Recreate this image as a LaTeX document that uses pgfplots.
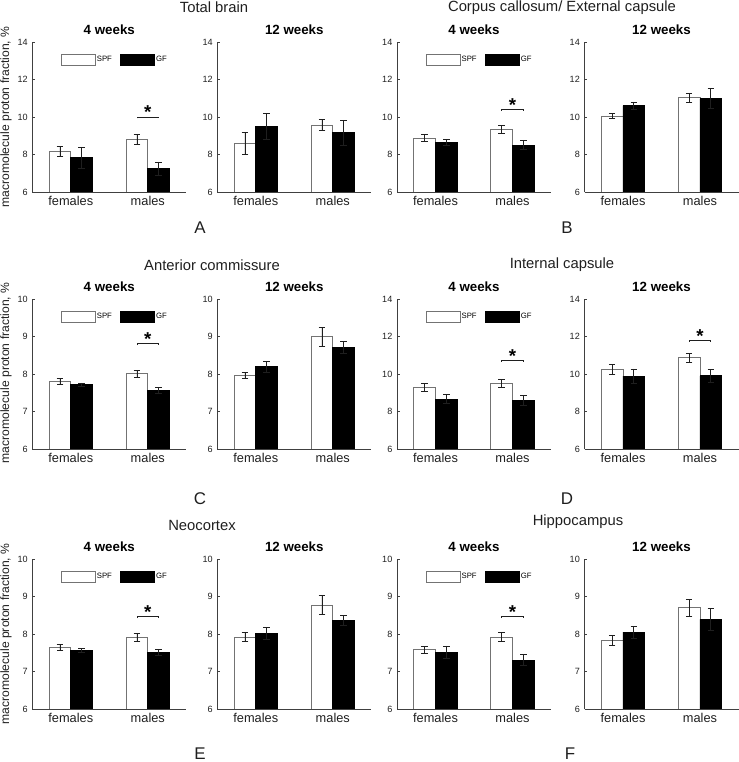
\documentclass[border=0pt]{standalone}
\usepackage{fontspec}
\setmainfont{Liberation Sans}
\usepackage{pgfplots}
\pgfplotsset{compat=1.18}
\definecolor{axc}{gray}{0.25}
\definecolor{txc}{gray}{0.12}
\pgfplotsset{
  panel/.style={
    scale only axis, width=115.5pt, height=112.5pt,
    xmin=0.5, xmax=2.5, ymin=6,
    xtick={1,2}, xticklabels={females,males},
    axis x line*=bottom, axis y line*=left,
    axis line style={axc, line width=0.6pt, -},
    tick align=inside, major tick length=2.2pt,
    tick style={axc, line width=0.5pt},
    xtick style={draw=none},
    x tick label style={font=\fontsize{9.6}{11}\selectfont, text=txc},
    y tick label style={font=\fontsize{6.8}{7}\selectfont, text=txc},
    /pgf/number format/assume math mode=true,
    title style={font=\bfseries\fontsize{10}{12}\selectfont, at={(0.5,1)}, anchor=center, yshift=3pt},
    legend columns=2,
    legend style={draw=none, fill=none, at={(0.185,0.922)}, anchor=north west,
      font=\fontsize{5.8}{6}\selectfont, inner sep=0pt, outer sep=0pt,
      nodes={inner sep=1pt},
      /tikz/every even column/.append style={column sep=5pt}},
  },
  big/.style={ymax=14, ytick={6,8,10,12,14}},
  small/.style={ymax=10, ytick={6,7,8,9,10}},
  barbase/.style={ybar, bar width=0.283, bar shift=0pt, line width=0.6pt,
    legend image code/.code={\draw[##1] (0pt,-4.1pt) rectangle (25.5pt,4.1pt);},
    error bars/y dir=both, error bars/y explicit,
    error bars/error bar style={txc, line width=0.6pt},
    error bars/error mark options={rotate=90, txc, mark size=2.5pt, line width=0.6pt}},
  spf/.style={barbase, fill=white, draw=black!55},
  gf/.style={barbase, fill=black, draw=black},
  sig/.style={txc, line width=0.6pt, forget plot},
}
\newcommand{\sigstar}[1]{\node[font=\bfseries\fontsize{14}{14}\selectfont, anchor=base, yshift=-1.5pt] at (axis cs:2,#1) {*};}
\begin{document}
\begin{tikzpicture}
\useasboundingbox (0pt,0pt) rectangle (553.5pt,571.5pt);

% ---------------- Row 1 ----------------
\begin{axis}[panel, big, at={(32.3*0.75pt,570*0.75pt)}, anchor=south west, title={4 weeks}]
\addplot[spf] coordinates {(0.859,8.17) +- (0,0.25) (1.859,8.80) +- (0,0.27)};
\addlegendentry{SPF}
\addplot[gf] coordinates {(1.141,7.83) +- (0,0.57) (2.141,7.25) +- (0,0.35)};
\addlegendentry{GF}
\addplot[sig] coordinates {(1.859,9.92) (1.859,10.0) (2.141,10.0) (2.141,9.92)};
\sigstar{10.0}
\end{axis}
\begin{axis}[panel, big, at={(217.3*0.75pt,570*0.75pt)}, anchor=south west, title={12 weeks}]
\addplot[spf] coordinates {(0.859,8.59) +- (0,0.58) (1.859,9.57) +- (0,0.30)};
\addplot[gf] coordinates {(1.141,9.51) +- (0,0.70) (2.141,9.17) +- (0,0.66)};
\end{axis}
\begin{axis}[panel, big, at={(397*0.75pt,570*0.75pt)}, anchor=south west, title={4 weeks}]
\addplot[spf] coordinates {(0.859,8.87) +- (0,0.18) (1.859,9.35) +- (0,0.21)};
\addlegendentry{SPF}
\addplot[gf] coordinates {(1.141,8.63) +- (0,0.15) (2.141,8.50) +- (0,0.23)};
\addlegendentry{GF}
\addplot[sig] coordinates {(1.859,10.33) (1.859,10.41) (2.141,10.41) (2.141,10.33)};
\sigstar{10.41}
\end{axis}
\begin{axis}[panel, big, at={(584.5*0.75pt,570*0.75pt)}, anchor=south west, title={12 weeks}]
\addplot[spf] coordinates {(0.859,10.05) +- (0,0.15) (1.859,11.04) +- (0,0.24)};
\addplot[gf] coordinates {(1.141,10.60) +- (0,0.20) (2.141,10.98) +- (0,0.52)};
\end{axis}

% ---------------- Row 2 ----------------
\begin{axis}[panel, small, at={(32.3*0.75pt,313*0.75pt)}, anchor=south west, title={4 weeks}]
\addplot[spf] coordinates {(0.859,7.80) +- (0,0.08) (1.859,8.01) +- (0,0.09)};
\addlegendentry{SPF}
\addplot[gf] coordinates {(1.141,7.71) +- (0,0.05) (2.141,7.56) +- (0,0.07)};
\addlegendentry{GF}
\addplot[sig] coordinates {(1.859,8.77) (1.859,8.81) (2.141,8.81) (2.141,8.77)};
\sigstar{8.81}
\end{axis}
\begin{axis}[panel, small, at={(217.3*0.75pt,313*0.75pt)}, anchor=south west, title={12 weeks}]
\addplot[spf] coordinates {(0.859,7.95) +- (0,0.08) (1.859,8.99) +- (0,0.26)};
\addplot[gf] coordinates {(1.141,8.19) +- (0,0.14) (2.141,8.70) +- (0,0.16)};
\end{axis}
\begin{axis}[panel, big, at={(397*0.75pt,313*0.75pt)}, anchor=south west, title={4 weeks}]
\addplot[spf] coordinates {(0.859,9.28) +- (0,0.20) (1.859,9.51) +- (0,0.21)};
\addlegendentry{SPF}
\addplot[gf] coordinates {(1.141,8.66) +- (0,0.24) (2.141,8.57) +- (0,0.27)};
\addlegendentry{GF}
\addplot[sig] coordinates {(1.859,10.66) (1.859,10.74) (2.141,10.74) (2.141,10.66)};
\sigstar{10.74}
\end{axis}
\begin{axis}[panel, big, at={(584.5*0.75pt,313*0.75pt)}, anchor=south west, title={12 weeks}]
\addplot[spf] coordinates {(0.859,10.25) +- (0,0.26) (1.859,10.86) +- (0,0.22)};
\addplot[gf] coordinates {(1.141,9.88) +- (0,0.39) (2.141,9.90) +- (0,0.33)};
\addplot[sig] coordinates {(1.859,11.73) (1.859,11.81) (2.141,11.81) (2.141,11.73)};
\sigstar{11.81}
\end{axis}

% ---------------- Row 3 ----------------
\begin{axis}[panel, small, at={(32.3*0.75pt,53*0.75pt)}, anchor=south west, title={4 weeks}]
\addplot[spf] coordinates {(0.859,7.64) +- (0,0.07) (1.859,7.91) +- (0,0.10)};
\addlegendentry{SPF}
\addplot[gf] coordinates {(1.141,7.56) +- (0,0.06) (2.141,7.51) +- (0,0.08)};
\addlegendentry{GF}
\addplot[sig] coordinates {(1.859,8.42) (1.859,8.46) (2.141,8.46) (2.141,8.42)};
\sigstar{8.46}
\end{axis}
\begin{axis}[panel, small, at={(217.3*0.75pt,53*0.75pt)}, anchor=south west, title={12 weeks}]
\addplot[spf] coordinates {(0.859,7.91) +- (0,0.12) (1.859,8.77) +- (0,0.25)};
\addplot[gf] coordinates {(1.141,8.02) +- (0,0.16) (2.141,8.37) +- (0,0.13)};
\end{axis}
\begin{axis}[panel, small, at={(397*0.75pt,53*0.75pt)}, anchor=south west, title={4 weeks}]
\addplot[spf] coordinates {(0.859,7.58) +- (0,0.09) (1.859,7.92) +- (0,0.12)};
\addlegendentry{SPF}
\addplot[gf] coordinates {(1.141,7.51) +- (0,0.17) (2.141,7.30) +- (0,0.15)};
\addlegendentry{GF}
\addplot[sig] coordinates {(1.859,8.42) (1.859,8.46) (2.141,8.46) (2.141,8.42)};
\sigstar{8.46}
\end{axis}
\begin{axis}[panel, small, at={(584.5*0.75pt,53*0.75pt)}, anchor=south west, title={12 weeks}]
\addplot[spf] coordinates {(0.859,7.83) +- (0,0.13) (1.859,8.70) +- (0,0.23)};
\addplot[gf] coordinates {(1.141,8.05) +- (0,0.16) (2.141,8.39) +- (0,0.29)};
\end{axis}

% ---------------- Titles, labels, letters ----------------
\begin{scope}[x=0.75pt, y=0.75pt, every node/.style={text=txc}]
\node[font=\fontsize{11.1}{13}\selectfont] at (214,754.5) {Total brain};
\node[font=\fontsize{11.1}{13}\selectfont] at (562,754.5) {Corpus callosum/ External capsule};
\node[font=\fontsize{11.1}{13}\selectfont] at (212,497) {Anterior commissure};
\node[font=\fontsize{11.1}{13}\selectfont] at (562,497) {Internal capsule};
\node[font=\fontsize{11.1}{13}\selectfont] at (202,237) {Neocortex};
\node[font=\fontsize{11.1}{13}\selectfont] at (578,240.3) {Hippocampus};
\node[font=\fontsize{9.1}{11}\selectfont, rotate=90] at (6,645) {macromolecule proton fraction, \%};
\node[font=\fontsize{9.1}{11}\selectfont, rotate=90] at (6,389) {macromolecule proton fraction, \%};
\node[font=\fontsize{9.1}{11}\selectfont, rotate=90] at (6,128) {macromolecule proton fraction, \%};
\node[font=\fontsize{12.7}{14}\selectfont] at (200,534) {A};
\node[font=\fontsize{12.7}{14}\selectfont] at (567,534) {B};
\node[font=\fontsize{12.7}{14}\selectfont] at (200,263) {C};
\node[font=\fontsize{12.7}{14}\selectfont] at (567,263) {D};
\node[font=\fontsize{12.7}{14}\selectfont] at (200,8.5) {E};
\node[font=\fontsize{12.7}{14}\selectfont] at (570,8.5) {F};
\end{scope}
\end{tikzpicture}
\end{document}
